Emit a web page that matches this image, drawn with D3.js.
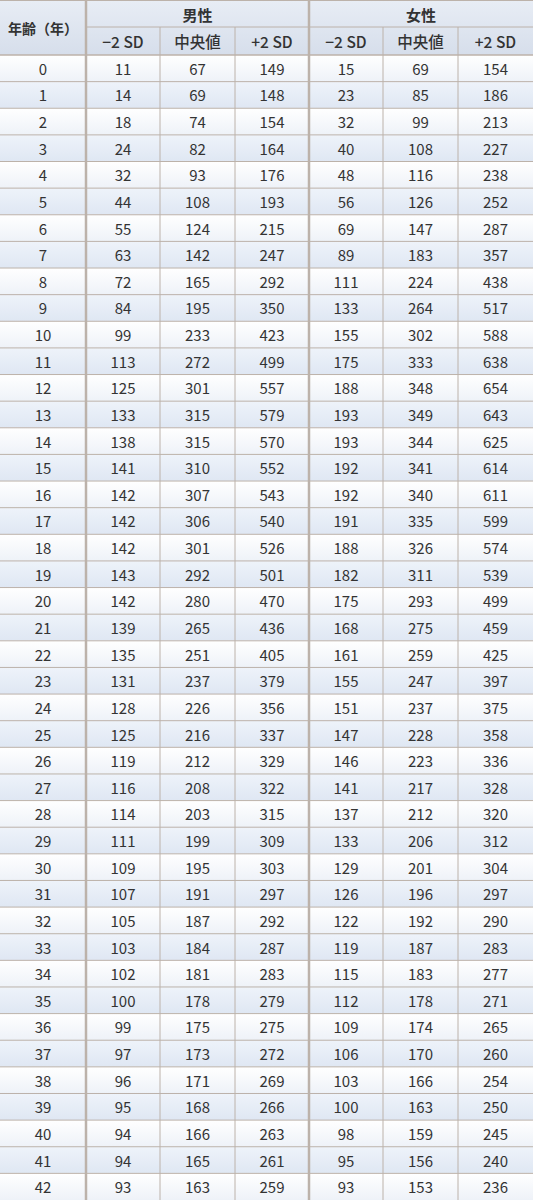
<!DOCTYPE html><html><head><meta charset="utf-8"><script src="https://cdn.jsdelivr.net/npm/d3@7"></script>
<style>body{margin:0;background:#fff}</style></head><body><svg id="c" width="533" height="1200"></svg><script>
const ages=d3.range(0,43);
const maleLow=[11,14,18,24,32,44,55,63,72,84,99,113,125,133,138,141,142,142,142,143,142,139,135,131,128,125,119,116,114,111,109,107,105,103,102,100,99,97,96,95,94,94,93];
const maleMed=[67,69,74,82,93,108,124,142,165,195,233,272,301,315,315,310,307,306,301,292,280,265,251,237,226,216,212,208,203,199,195,191,187,184,181,178,175,173,171,168,166,165,163];
const maleHigh=[149,148,154,164,176,193,215,247,292,350,423,499,557,579,570,552,543,540,526,501,470,436,405,379,356,337,329,322,315,309,303,297,292,287,283,279,275,272,269,266,263,261,259];
const femLow=[15,23,32,40,48,56,69,89,111,133,155,175,188,193,193,192,192,191,188,182,175,168,161,155,151,147,146,141,137,133,129,126,122,119,115,112,109,106,103,100,98,95,93];
const femMed=[69,85,99,108,116,126,147,183,224,264,302,333,348,349,344,341,340,335,326,311,293,275,259,247,237,228,223,217,212,206,201,196,192,187,183,178,174,170,166,163,159,156,153];
const femHigh=[154,186,213,227,238,252,287,357,438,517,588,638,654,643,625,614,611,599,574,539,499,459,425,397,375,358,336,328,320,312,304,297,290,283,277,271,265,260,254,250,245,240,236];
const groups=["男性","女性"];
const subHeads=["−2 SD","中央値","+2 SD"];
const cols=[ages,maleLow,maleMed,maleHigh,femLow,femMed,femHigh];
const svg=d3.select("#c");
const edges=[0,86,160,235,309,383,458,533];
const y=d3.scaleBand().domain(ages).range([55,1200]);
const defs=svg.append("defs");
const mk=(id,a,b)=>{const g=defs.append("linearGradient").attr("id",id).attr("x1",0).attr("x2",0).attr("y1",0).attr("y2",1);g.append("stop").attr("offset",0).attr("stop-color",a);g.append("stop").attr("offset",1).attr("stop-color",b);};
mk("hd","#e8edf5","#d6deeb");mk("ev","#ffffff","#eef2f8");mk("od","#eef3fa","#dfe7f3");
svg.append("rect").attr("x",0).attr("y",0).attr("width",533).attr("height",55).attr("fill","url(#hd)");
svg.selectAll(".row").data(ages).join("rect").attr("x",0).attr("y",d=>y(d)).attr("width",533).attr("height",y.bandwidth()).attr("fill",d=>d%2?"url(#od)":"url(#ev)");
const line="#bcb2aa";
svg.selectAll(".hl").data(ages).join("line").attr("x1",0).attr("x2",533).attr("y1",d=>y(d)).attr("y2",d=>y(d)).attr("stroke",line).attr("stroke-width",d=>d===0?1.5:1);
svg.append("line").attr("x1",86).attr("x2",533).attr("y1",27).attr("y2",27).attr("stroke",line);
svg.append("line").attr("x1",0).attr("x2",533).attr("y1",0.5).attr("y2",0.5).attr("stroke",line);
[1,2,3,4,5,6].forEach(i=>{const thick=(i===1||i===4);svg.append("line").attr("x1",edges[i]).attr("x2",edges[i]).attr("y1",thick?0:27).attr("y2",1200).attr("stroke",line).attr("stroke-width",thick?2.5:1);});
const tf="'Noto Sans CJK JP','Noto Sans',sans-serif";
const txt=(x,yy,s,w,fs)=>svg.append("text").attr("x",x).attr("y",yy).attr("text-anchor","middle").attr("dominant-baseline","central").attr("font-family",tf).attr("font-size",fs||15).attr("font-weight",w||400).attr("fill","#333").text(s);
txt(43,28,"年齢（年）",700,14);
groups.forEach((g,i)=>txt((edges[1+3*i]+edges[4+3*i])/2,14,g,700,15));
for(let i=1;i<7;i++)txt((edges[i]+edges[i+1])/2,41,subHeads[(i-1)%3],500,15.5);
cols.forEach((c,i)=>c.forEach((v,j)=>txt((edges[i]+edges[i+1])/2,y(ages[j])+y.bandwidth()/2,v,400,15)));
</script></body></html>
